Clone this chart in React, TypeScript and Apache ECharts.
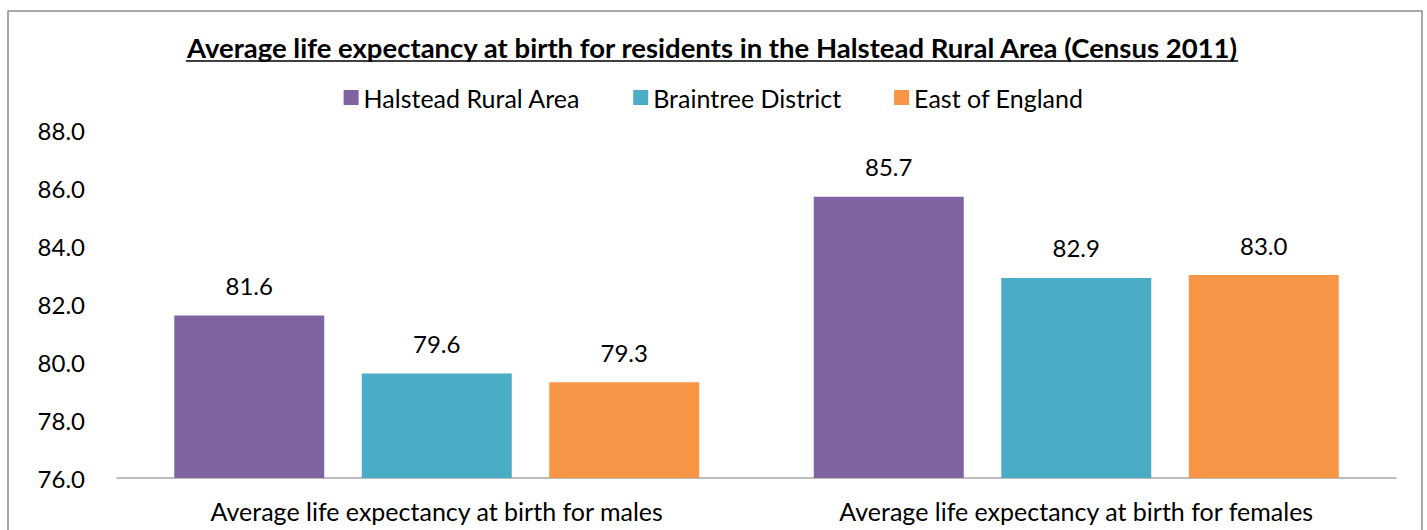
import React, { useEffect, useRef } from "react";
import * as echarts from "echarts";

const categories = [
  "Average life expectancy at birth for males",
  "Average life expectancy at birth for females",
];
const seriesNames = ["Halstead Rural Area", "Braintree District", "East of England"];
const halstead = [81.6, 85.7];
const braintree = [79.6, 82.9];
const eastEngland = [79.3, 83.0];
const colors = ["#8064A2", "#4BACC6", "#F79646"];
const titleText =
  "Average life expectancy at birth for residents in the Halstead Rural Area (Census 2011)";

const FONT = "Lato, 'Open Sans', sans-serif";
const FS = 24;

export default function App() {
  const ref = useRef<HTMLDivElement>(null);
  useEffect(() => {
    if (!ref.current) return;
    const chart = echarts.init(ref.current, null, { renderer: "svg" });
    const titleSize = 27.5;
    const ctx = document.createElement("canvas").getContext("2d")!;
    ctx.font = `bold ${titleSize}px Lato`;
    const tw = ctx.measureText(titleText).width;
    const cx = 712;
    const values = [halstead, braintree, eastEngland];
    chart.setOption({
      animation: false,
      backgroundColor: "#ffffff",
      textStyle: { fontFamily: FONT },
      graphic: [
        {
          type: "rect",
          shape: { x: 8, y: 11, width: 1414, height: 560 },
          style: { fill: "none", stroke: "#8c8c8c", lineWidth: 1.5 },
          silent: true,
        },
        {
          type: "text",
          x: cx,
          y: 47,
          style: {
            text: titleText,
            fill: "#000",
            font: `bold ${titleSize}px ${FONT}`,
            textAlign: "center",
            textVerticalAlign: "middle",
          },
        },
        {
          type: "line",
          shape: { x1: cx - tw / 2, y1: 61, x2: cx + tw / 2, y2: 61 },
          style: { stroke: "#000", lineWidth: 1.5 },
        },
      ],
      legend: {
        top: 80,
        left: "center",
        itemWidth: 15,
        itemHeight: 15,
        itemGap: 53,
        icon: "rect",
        textStyle: { fontSize: 25, color: "#000", fontFamily: FONT },
        data: seriesNames,
      },
      grid: { left: 117, right: 31, top: 130, bottom: 52, containLabel: false },
      xAxis: {
        type: "category",
        data: categories,
        axisLine: { lineStyle: { color: "#a6a6a6", width: 1.5 } },
        axisTick: { show: false },
        axisLabel: { fontSize: 25, color: "#000", margin: 20, fontFamily: FONT },
      },
      yAxis: {
        type: "value",
        min: 76,
        max: 88,
        interval: 2,
        splitLine: { show: false },
        axisLine: { show: false },
        axisTick: { show: false },
        axisLabel: {
          fontSize: FS,
          color: "#000",
          margin: 32,
          fontFamily: FONT,
          formatter: (v: number) => v.toFixed(1),
        },
      },
      series: seriesNames.map((name, i) => ({
        name,
        type: "bar",
        data: values[i],
        barWidth: 150,
        barGap: "25%",
        itemStyle: { color: colors[i] },
        label: {
          show: true,
          position: "top",
          distance: 18,
          fontSize: FS,
          color: "#000",
          fontFamily: FONT,
          formatter: (p: any) => Number(p.value).toFixed(1),
        },
      })),
    });
    return () => chart.dispose();
  }, []);
  return (
    <div
      ref={ref}
      style={{ position: "absolute", left: 0, top: 0, width: 1427, height: 530 }}
    />
  );
}
